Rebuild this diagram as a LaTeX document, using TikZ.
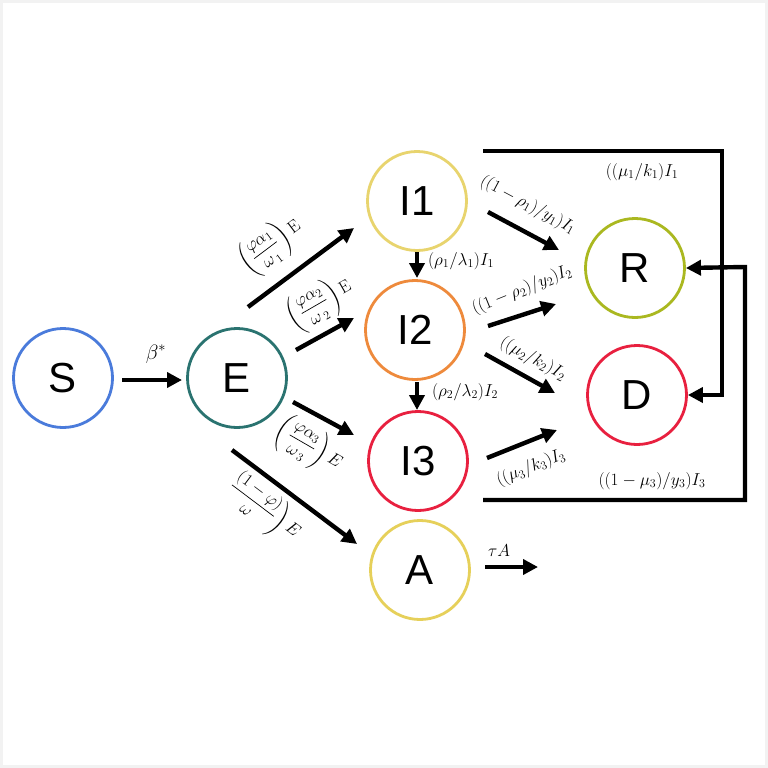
\documentclass[tikz,border=0pt]{standalone}
\usepackage{amsmath}
\usepackage[no-math]{fontspec}
\setmainfont{Liberation Sans}
\usetikzlibrary{arrows.meta,calc}
\definecolor{cS}{HTML}{4A7BDB}
\definecolor{cE}{HTML}{2A7370}
\definecolor{cI1}{HTML}{E8D46E}
\definecolor{cI2}{HTML}{EE8A3C}
\definecolor{cI3}{HTML}{E8203F}
\definecolor{cA}{HTML}{E6D05A}
\definecolor{cR}{HTML}{AAB820}
\definecolor{cD}{HTML}{E8203F}
\definecolor{frame}{HTML}{F2F2F2}
\tikzset{
  comp/.style={circle, draw, line width=2.8pt, minimum size=99pt, inner sep=0pt, font=\fontsize{42}{46}\selectfont},
  arr/.style={line width=4.4pt, -{Triangle[length=15pt,width=15pt]}},
  lab/.style={inner sep=0pt, font=\fontsize{16.5}{19}\selectfont},
  fraclab/.style={inner sep=0pt, font=\fontsize{16.5}{19}\selectfont},
}
\begin{document}
\begin{tikzpicture}[x=1pt,y=-1pt]
\fill[white] (0,0) rectangle (768,768);
\draw[frame, line width=3pt] (1.5,1.5) rectangle (766.5,766.5);
\useasboundingbox (0,0) rectangle (768,768);

\node[comp, draw=cS]  (S)  at (63,378)  {S};
\node[comp, draw=cE]  (E)  at (237,378) {E};
\node[comp, draw=cI1] (I1) at (417,201) {I1};
\node[comp, draw=cI2] (I2) at (415,330) {I2};
\node[comp, draw=cI3] (I3) at (418,461) {I3};
\node[comp, draw=cA]  (A)  at (420,570) {A};
\node[comp, draw=cR]  (R)  at (635,268) {R};
\node[comp, draw=cD]  (D)  at (637,395) {D};

% S -> E
\draw[arr] ($(S)+(59,2)$) -- ($(E)+(-55,2)$);
\node[lab, font=\fontsize{21}{24}\selectfont] (lbeta) at (156,354) {$\beta^{*}$};

% E -> I1, I2, I3, A
\draw[arr] ($(E)+(11,-71)$) -- ($(I1)+(-63,27)$);
\draw[arr] ($(E)+(59,-28)$) -- ($(I2)+(-61,-12)$);
\draw[arr] ($(E)+(56,24)$) -- ($(I3)+(-64,-26)$);
\draw[arr] ($(E)+(-5,72)$) -- ($(A)+(-63,-26)$);

\node[fraclab, rotate=37] (l1) at (271,246) {$\left(\dfrac{\varphi\alpha_1}{\omega{}_{\,1}}\right)\mathrm{E}$};
\node[fraclab, rotate=30] (l2) at (320,303) {$\left(\dfrac{\varphi\alpha_2}{\omega{}_{\,2}}\right)\mathrm{E}$};
\node[fraclab, rotate=-30] (l3) at (309,446) {$\left(\dfrac{\varphi\alpha_3}{\omega{}_{\,3}}\right)E$};
\node[fraclab, rotate=-37] (l4) at (264,509) {$\left.\dfrac{(1-\varphi)}{\omega}\right)E$};

% vertical I1->I2, I2->I3
\draw[arr] ($(I1)+(0,51)$) -- ($(I2)+(2,-52)$);
\node[lab] (l5) at (461,261) {$(\rho_1/\lambda_1)I_1$};
\draw[arr] ($(I2)+(2,52)$) -- ($(I3)+(-1,-51)$);
\node[lab] (l6) at (465,392) {$(\rho_2/\lambda_2)I_2$};

% to R and D
\draw[arr] ($(I1)+(71,11)$) -- ($(R)+(-76,-18)$);
\node[lab, rotate=-28] (l7) at (528,205) {$((1-\rho_1)/y_1)I_1$};
\draw[arr] ($(I2)+(73,-4)$) -- ($(R)+(-79,36)$);
\node[lab, rotate=22] (l8) at (522,290) {$((1-\rho_2)/y_2)I_2$};
\draw[arr] ($(I2)+(70,24)$) -- ($(D)+(-82,-2)$);
\node[lab, rotate=-28] (l9) at (533,359) {$((\mu_2/k_2)I_2$};
\draw[arr] ($(I3)+(69,-3)$) -- ($(D)+(-80,35)$);
\node[lab, rotate=22] (l10) at (531,468) {$((\mu_3/k_3)I_3$};

% A outflow
\coordinate (Aout) at (538,567);
\draw[arr] ($(A)+(65,-3)$) -- (Aout);
\node[lab] (l11) at (499,551) {$\tau A$};

% elbow flows
\coordinate (c1a) at (722,151);
\coordinate (c1b) at (722,395);
\draw[arr] ($(I1)+(66,-50)$) -- (c1a) -- (c1b) -- (D.east);
\node[lab] (l12) at (642,172) {$((\mu_1/k_1)I_1$};

\coordinate (c3a) at (745,500);
\coordinate (c3b) at (745,267);
\draw[arr] ($(I3)+(65,39)$) -- (c3a) -- (c3b) -- (R.east);
\node[lab] (l13) at (652,481) {$((1-\mu_3)/y_3)I_3$};
\end{tikzpicture}
\end{document}
